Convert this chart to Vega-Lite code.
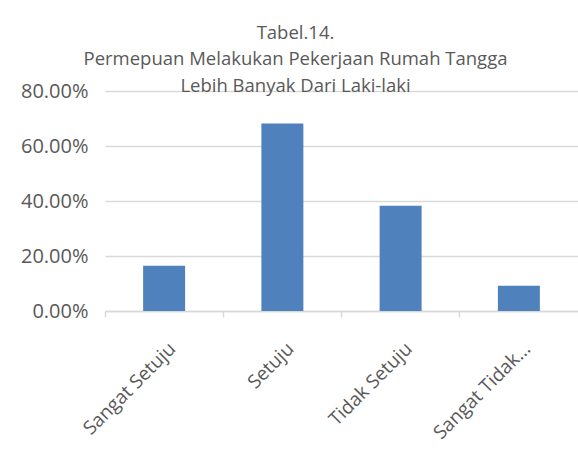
{
  "$schema": "https://vega.github.io/schema/vega-lite/v6.json",
  "autosize": "none",
  "padding": {"left": 105, "top": 91, "right": 0, "bottom": 143},
  "width": 473,
  "height": 220,
  "background": "white",
  "title": {
    "text": ["Tabel.14.", "Permepuan Melakukan Pekerjaan Rumah Tangga", "Lebih Banyak Dari Laki-laki"],
    "anchor": "middle",
    "frame": "group",
    "dx": -46,
    "dy": 14,
    "offset": 0,
    "font": "Open Sans",
    "fontSize": 18.5,
    "fontWeight": "normal",
    "lineHeight": 26.5,
    "color": "#595959"
  },
  "data": {
    "values": [
      {"kategori": "Sangat Setuju", "persen": 0.165},
      {"kategori": "Setuju", "persen": 0.682},
      {"kategori": "Tidak Setuju", "persen": 0.383},
      {"kategori": "Sangat Tidak Setuju", "persen": 0.092}
    ]
  },
  "mark": {"type": "bar", "color": "#4f81bd"},
  "encoding": {
    "x": {
      "field": "kategori",
      "type": "nominal",
      "sort": null,
      "scale": {"paddingInner": 0.645, "paddingOuter": 0.3225},
      "axis": {
        "title": null,
        "bandPosition": -0.908,
        "labelOffset": 2,
        "labelAngle": -45,
        "labelExpr": "datum.label == 'Sangat Tidak Setuju' ? 'Sangat Tidak...' : datum.label",
        "labelFont": "Open Sans",
        "labelFontSize": 19,
        "labelColor": "#595959",
        "labelPadding": 22,
        "labelLimit": 300,
        "domainColor": "#d9d9d9",
        "domainWidth": 1.5,
        "tickColor": "#d9d9d9",
        "tickWidth": 1.5,
        "tickSize": 6,
        "grid": false
      }
    },
    "y": {
      "field": "persen",
      "type": "quantitative",
      "scale": {"domain": [0, 0.8]},
      "axis": {
        "title": null,
        "values": [0, 0.2, 0.4, 0.6, 0.8],
        "format": ".2%",
        "domain": false,
        "ticks": false,
        "labelFont": "Open Sans",
        "labelFontSize": 20,
        "labelColor": "#595959",
        "labelPadding": 17,
        "gridColor": "#d9d9d9",
        "gridWidth": 1.5
      }
    }
  },
  "config": {"view": {"stroke": null}}
}
